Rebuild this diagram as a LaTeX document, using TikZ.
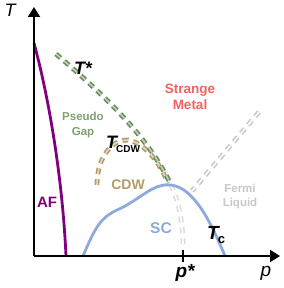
\documentclass[tikz,border=0pt]{standalone}
\usepackage{fontspec}
\setmainfont{Liberation Sans}
\usetikzlibrary{arrows.meta}
\definecolor{afpurple}{HTML}{800080}
\definecolor{scblue}{HTML}{8EAADB}
\definecolor{pggreen}{HTML}{6A8A5A}
\definecolor{pgtext}{HTML}{7F9F6F}
\definecolor{cdwtan}{HTML}{B49C6A}
\definecolor{smred}{HTML}{F86060}
\definecolor{flgray}{HTML}{C8C8C8}
\definecolor{ghost}{HTML}{DCDCDC}
\tikzset{
  axisline/.style={line width=2pt, -{Triangle[length=10pt,width=12pt]}},
  dd/.style={line width=1.6pt, double distance=1.6pt, dash pattern=on 6pt off 5pt},
  lbl/.style={font=\bfseries, inner sep=0pt, align=center},
}
\begin{document}
\begin{tikzpicture}[x=1pt,y=-1pt]
\useasboundingbox (0,0) rectangle (283,288);
% coordinates
\coordinate (o) at (34,256);
\coordinate (ytop) at (34,7);
\coordinate (xend) at (280,256);
\coordinate (pst) at (183,256);
\coordinate (af0) at (34,43);
\coordinate (af1) at (66,256);
\coordinate (sc0) at (83,256);
\coordinate (sc1) at (117,210);
\coordinate (scp) at (171,185);
\coordinate (sc2) at (225,256);
\coordinate (ts0) at (56,54);
\coordinate (ts1) at (183,246);
\coordinate (fl0) at (259,112);
\coordinate (fl1) at (192,191);
\coordinate (cd0) at (97,185);
\coordinate (cdt) at (128,140);
\coordinate (cd1) at (168,183);

% Fermi liquid crossover
\draw[dd, draw=flgray, double=white] (fl0) -- (fl1);
% T* continuation under dome
\draw[dd, draw=ghost, double=white] (scp) .. controls (178,200) and (183,220) .. (ts1);
% CDW dome
\draw[dd, draw=cdwtan, double=cdwtan!40] (cd0) .. controls (97,155) and (114,139) .. (cdt) .. controls (145,143) and (160,163) .. (cd1);
% T* line
\draw[dd, draw=pggreen, double=pggreen!40] (ts0) .. controls (110,100) and (150,140) .. (scp);
% AF line
\draw[afpurple, line width=2.8pt] (af0) .. controls (52,110) and (63,190) .. (af1);
% SC dome
\draw[scblue, line width=2.8pt] (sc0) .. controls (95,228) and (100,218) .. (sc1) .. controls (140,200) and (152,183) .. (scp) .. controls (195,188) and (212,225) .. (sc2);

% axes
\draw[axisline] (o) -- (ytop);
\draw[axisline] (o) -- (xend);
\draw[line width=1.6pt] (183,250) -- (183,262);

% labels
\node[inner sep=0pt, font=\fontsize{18}{18}\selectfont\itshape] (tlab) at (10,10) {T};
\node[inner sep=0pt, font=\fontsize{19}{19}\selectfont\itshape] (plab) at (266,273) {p};
\node[lbl, font=\fontsize{19}{19}\selectfont\bfseries\itshape] (pslab) at (185,273) {p*};
\node[lbl, font=\fontsize{18}{18}\selectfont\bfseries\itshape] (tslab) at (83,68) {T*};
\node[lbl, text=pgtext, font=\fontsize{11.5}{14.5}\selectfont\bfseries] (pg) at (83,125) {Pseudo\\Gap};
\node[lbl, text=smred, font=\fontsize{13.5}{16}\selectfont\bfseries] (sm) at (190,97) {Strange\\Metal};
\node[lbl, text=flgray, font=\fontsize{11.5}{14}\selectfont\bfseries] (fl) at (240,197) {Fermi\\Liquid};
\node[lbl, text=cdwtan, font=\fontsize{14}{14}\selectfont\bfseries] (cdw) at (128,185) {CDW};
\node[lbl, text=afpurple, font=\fontsize{15}{15}\selectfont\bfseries] (af) at (47,202) {AF};
\node[lbl, text=scblue, font=\fontsize{15.5}{15.5}\selectfont\bfseries] (sc) at (161,228) {SC};
\node[lbl, anchor=base west, font=\fontsize{19}{19}\selectfont\bfseries\itshape] (tc) at (207,239) {T\kern-1pt{\fontsize{13}{13}\selectfont\upshape\raisebox{-4pt}{c}}};
\node[lbl, anchor=base west, font=\fontsize{18}{18}\selectfont\bfseries\itshape] (tcdw) at (106,149) {T\kern-1pt{\fontsize{10}{10}\selectfont\upshape\raisebox{-3.5pt}{CDW}}};
\end{tikzpicture}
\end{document}
